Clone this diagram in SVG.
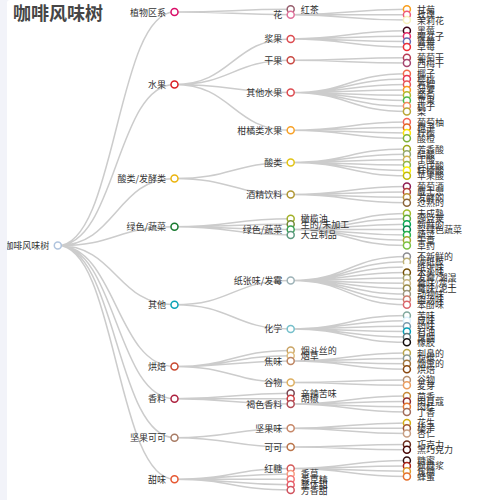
<svg xmlns="http://www.w3.org/2000/svg" width="500" height="500" viewBox="0 0 500 500">
<style>
.l{fill:none;stroke:#ccc;stroke-width:1.5}
circle{fill:#fff;stroke-width:1.5}
text{font-family:"Noto Sans CJK SC","Noto Sans",sans-serif;font-size:9px;fill:#333;dominant-baseline:central}
.a{text-anchor:end}
.b{text-anchor:start}
.t{font-size:18px;font-weight:bold;fill:#464646;dominant-baseline:auto}
</style>
<rect x="0" y="0" width="500" height="500" fill="#fff"/>
<text class="t" x="13" y="20">咖啡风味树</text>
<g id="links">
<path class="l" d="M57.8,245.6C116.2,245.6 116.2,12 174.5,12M57.8,245.6C116.2,245.6 116.2,84.5 174.5,84.5M57.8,245.6C116.2,245.6 116.2,178.5 174.5,178.5M57.8,245.6C116.2,245.6 116.2,226.8 174.5,226.8M57.8,245.6C116.2,245.6 116.2,304.7 174.5,304.7M57.8,245.6C116.2,245.6 116.2,366.5 174.5,366.5M57.8,245.6C116.2,245.6 116.2,398.7 174.5,398.7M57.8,245.6C116.2,245.6 116.2,437.7 174.5,437.7M57.8,245.6C116.2,245.6 116.2,479.3 174.5,479.3"/>
<path class="l" d="M174.5,12C232.6,12 232.6,9.3 290.7,9.3M174.5,12C232.6,12 232.6,14.7 290.7,14.7"/>
<path class="l" d="M174.5,84.5C232.6,84.5 232.6,38.9 290.7,38.9M174.5,84.5C232.6,84.5 232.6,60.3 290.7,60.3M174.5,84.5C232.6,84.5 232.6,92.6 290.7,92.6M174.5,84.5C232.6,84.5 232.6,130.2 290.7,130.2"/>
<path class="l" d="M174.5,178.5C232.6,178.5 232.6,162.4 290.7,162.4M174.5,178.5C232.6,178.5 232.6,194.6 290.7,194.6"/>
<path class="l" d="M174.5,226.8C232.6,226.8 232.6,218.8 290.7,218.8M174.5,226.8C232.6,226.8 232.6,224.2 290.7,224.2M174.5,226.8C232.6,226.8 232.6,229.5 290.7,229.5M174.5,226.8C232.6,226.8 232.6,234.9 290.7,234.9"/>
<path class="l" d="M174.5,304.7C232.6,304.7 232.6,280.6 290.7,280.6M174.5,304.7C232.6,304.7 232.6,328.9 290.7,328.9"/>
<path class="l" d="M174.5,366.5C232.6,366.5 232.6,350.4 290.7,350.4M174.5,366.5C232.6,366.5 232.6,355.7 290.7,355.7M174.5,366.5C232.6,366.5 232.6,361.1 290.7,361.1M174.5,366.5C232.6,366.5 232.6,382.6 290.7,382.6"/>
<path class="l" d="M174.5,398.7C232.6,398.7 232.6,393.3 290.7,393.3M174.5,398.7C232.6,398.7 232.6,398.7 290.7,398.7M174.5,398.7C232.6,398.7 232.6,404.1 290.7,404.1"/>
<path class="l" d="M174.5,437.7C232.6,437.7 232.6,428.3 290.7,428.3M174.5,437.7C232.6,437.7 232.6,447.1 290.7,447.1"/>
<path class="l" d="M174.5,479.3C232.6,479.3 232.6,468.5 290.7,468.5M174.5,479.3C232.6,479.3 232.6,473.9 290.7,473.9M174.5,479.3C232.6,479.3 232.6,479.3 290.7,479.3M174.5,479.3C232.6,479.3 232.6,484.7 290.7,484.7M174.5,479.3C232.6,479.3 232.6,490 290.7,490"/>
<path class="l" d="M290.7,14.7C348.8,14.7 348.8,9.3 406.9,9.3M290.7,14.7C348.8,14.7 348.8,14.7 406.9,14.7M290.7,14.7C348.8,14.7 348.8,20.1 406.9,20.1"/>
<path class="l" d="M290.7,38.9C348.8,38.9 348.8,30.8 406.9,30.8M290.7,38.9C348.8,38.9 348.8,36.2 406.9,36.2M290.7,38.9C348.8,38.9 348.8,41.5 406.9,41.5M290.7,38.9C348.8,38.9 348.8,46.9 406.9,46.9"/>
<path class="l" d="M290.7,60.3C348.8,60.3 348.8,57.7 406.9,57.7M290.7,60.3C348.8,60.3 348.8,63 406.9,63"/>
<path class="l" d="M290.7,92.6C348.8,92.6 348.8,73.8 406.9,73.8M290.7,92.6C348.8,92.6 348.8,79.1 406.9,79.1M290.7,92.6C348.8,92.6 348.8,84.5 406.9,84.5M290.7,92.6C348.8,92.6 348.8,89.9 406.9,89.9M290.7,92.6C348.8,92.6 348.8,95.3 406.9,95.3M290.7,92.6C348.8,92.6 348.8,100.6 406.9,100.6M290.7,92.6C348.8,92.6 348.8,106 406.9,106M290.7,92.6C348.8,92.6 348.8,111.4 406.9,111.4"/>
<path class="l" d="M290.7,130.2C348.8,130.2 348.8,122.1 406.9,122.1M290.7,130.2C348.8,130.2 348.8,127.5 406.9,127.5M290.7,130.2C348.8,130.2 348.8,132.9 406.9,132.9M290.7,130.2C348.8,130.2 348.8,138.2 406.9,138.2"/>
<path class="l" d="M290.7,162.4C348.8,162.4 348.8,149 406.9,149M290.7,162.4C348.8,162.4 348.8,154.3 406.9,154.3M290.7,162.4C348.8,162.4 348.8,159.7 406.9,159.7M290.7,162.4C348.8,162.4 348.8,165.1 406.9,165.1M290.7,162.4C348.8,162.4 348.8,170.4 406.9,170.4M290.7,162.4C348.8,162.4 348.8,175.8 406.9,175.8"/>
<path class="l" d="M290.7,194.6C348.8,194.6 348.8,186.6 406.9,186.6M290.7,194.6C348.8,194.6 348.8,191.9 406.9,191.9M290.7,194.6C348.8,194.6 348.8,197.3 406.9,197.3M290.7,194.6C348.8,194.6 348.8,202.7 406.9,202.7"/>
<path class="l" d="M290.7,229.5C348.8,229.5 348.8,213.4 406.9,213.4M290.7,229.5C348.8,229.5 348.8,218.8 406.9,218.8M290.7,229.5C348.8,229.5 348.8,224.2 406.9,224.2M290.7,229.5C348.8,229.5 348.8,229.5 406.9,229.5M290.7,229.5C348.8,229.5 348.8,234.9 406.9,234.9M290.7,229.5C348.8,229.5 348.8,240.3 406.9,240.3M290.7,229.5C348.8,229.5 348.8,245.6 406.9,245.6"/>
<path class="l" d="M290.7,280.6C348.8,280.6 348.8,256.4 406.9,256.4M290.7,280.6C348.8,280.6 348.8,261.8 406.9,261.8M290.7,280.6C348.8,280.6 348.8,267.1 406.9,267.1M290.7,280.6C348.8,280.6 348.8,272.5 406.9,272.5M290.7,280.6C348.8,280.6 348.8,277.9 406.9,277.9M290.7,280.6C348.8,280.6 348.8,283.2 406.9,283.2M290.7,280.6C348.8,280.6 348.8,288.6 406.9,288.6M290.7,280.6C348.8,280.6 348.8,294 406.9,294M290.7,280.6C348.8,280.6 348.8,299.4 406.9,299.4M290.7,280.6C348.8,280.6 348.8,304.7 406.9,304.7"/>
<path class="l" d="M290.7,328.9C348.8,328.9 348.8,315.5 406.9,315.5M290.7,328.9C348.8,328.9 348.8,320.8 406.9,320.8M290.7,328.9C348.8,328.9 348.8,326.2 406.9,326.2M290.7,328.9C348.8,328.9 348.8,331.6 406.9,331.6M290.7,328.9C348.8,328.9 348.8,337 406.9,337M290.7,328.9C348.8,328.9 348.8,342.3 406.9,342.3"/>
<path class="l" d="M290.7,361.1C348.8,361.1 348.8,353.1 406.9,353.1M290.7,361.1C348.8,361.1 348.8,358.4 406.9,358.4M290.7,361.1C348.8,361.1 348.8,363.8 406.9,363.8M290.7,361.1C348.8,361.1 348.8,369.2 406.9,369.2"/>
<path class="l" d="M290.7,382.6C348.8,382.6 348.8,379.9 406.9,379.9M290.7,382.6C348.8,382.6 348.8,385.3 406.9,385.3"/>
<path class="l" d="M290.7,404.1C348.8,404.1 348.8,396 406.9,396M290.7,404.1C348.8,404.1 348.8,401.4 406.9,401.4M290.7,404.1C348.8,404.1 348.8,406.8 406.9,406.8M290.7,404.1C348.8,404.1 348.8,412.1 406.9,412.1"/>
<path class="l" d="M290.7,428.3C348.8,428.3 348.8,422.9 406.9,422.9M290.7,428.3C348.8,428.3 348.8,428.3 406.9,428.3M290.7,428.3C348.8,428.3 348.8,433.6 406.9,433.6"/>
<path class="l" d="M290.7,447.1C348.8,447.1 348.8,444.4 406.9,444.4M290.7,447.1C348.8,447.1 348.8,449.7 406.9,449.7"/>
<path class="l" d="M290.7,468.5C348.8,468.5 348.8,460.5 406.9,460.5M290.7,468.5C348.8,468.5 348.8,465.9 406.9,465.9M290.7,468.5C348.8,468.5 348.8,471.2 406.9,471.2M290.7,468.5C348.8,468.5 348.8,476.6 406.9,476.6"/>
</g>
<g id="nodes">
<g id="root"><circle cx="57.8" cy="245.6" r="3.5" stroke="#b0c4de"/><text class="a" x="49.3" y="245.6">咖啡风味树</text></g>
<g id="d1-flora"><circle cx="174.5" cy="12" r="3.5" stroke="#da0d68"/><text class="a" x="166" y="12">植物区系</text></g>
<g id="d1-fruity"><circle cx="174.5" cy="84.5" r="3.5" stroke="#da1d23"/><text class="a" x="166" y="84.5">水果</text></g>
<g id="d1-sour"><circle cx="174.5" cy="178.5" r="3.5" stroke="#ebb40f"/><text class="a" x="166" y="178.5">酸类/发酵类</text></g>
<g id="d1-green"><circle cx="174.5" cy="226.8" r="3.5" stroke="#187a2f"/><text class="a" x="166" y="226.8">绿色/蔬菜</text></g>
<g id="d1-other"><circle cx="174.5" cy="304.7" r="3.5" stroke="#0aa3b5"/><text class="a" x="166" y="304.7">其他</text></g>
<g id="d1-roasted"><circle cx="174.5" cy="366.5" r="3.5" stroke="#c94930"/><text class="a" x="166" y="366.5">烘焙</text></g>
<g id="d1-spices"><circle cx="174.5" cy="398.7" r="3.5" stroke="#ad213e"/><text class="a" x="166" y="398.7">香料</text></g>
<g id="d1-nutty"><circle cx="174.5" cy="437.7" r="3.5" stroke="#a87b64"/><text class="a" x="166" y="437.7">坚果可可</text></g>
<g id="d1-sweet"><circle cx="174.5" cy="479.3" r="3.5" stroke="#e65832"/><text class="a" x="166" y="479.3">甜味</text></g>

<g id="d2-blacktea"><circle cx="290.7" cy="9.3" r="3.5" stroke="#975e6d"/><text class="b" x="300.7" y="9.3">红茶</text></g>
<g id="d2-floral"><circle cx="290.7" cy="14.7" r="3.5" stroke="#e0719c"/><text class="a" x="282.2" y="14.7">花</text></g>
<g id="d2-berry"><circle cx="290.7" cy="38.9" r="3.5" stroke="#dd4c51"/><text class="a" x="282.2" y="38.9">浆果</text></g>
<g id="d2-dried"><circle cx="290.7" cy="60.3" r="3.5" stroke="#c94a44"/><text class="a" x="282.2" y="60.3">干果</text></g>
<g id="d2-otherfruit"><circle cx="290.7" cy="92.6" r="3.5" stroke="#dd4c51"/><text class="a" x="282.2" y="92.6">其他水果</text></g>
<g id="d2-citrus"><circle cx="290.7" cy="130.2" r="3.5" stroke="#f7a128"/><text class="a" x="282.2" y="130.2">柑橘类水果</text></g>
<g id="d2-sour"><circle cx="290.7" cy="162.4" r="3.5" stroke="#e1c315"/><text class="a" x="282.2" y="162.4">酸类</text></g>
<g id="d2-alcohol"><circle cx="290.7" cy="194.6" r="3.5" stroke="#b09733"/><text class="a" x="282.2" y="194.6">酒精饮料</text></g>
<g id="d2-olive"><circle cx="290.7" cy="218.8" r="3.5" stroke="#a2b029"/><text class="b" x="300.7" y="218.8">橄榄油</text></g>
<g id="d2-raw"><circle cx="290.7" cy="224.2" r="3.5" stroke="#718933"/><text class="b" x="300.7" y="224.2">生的/未加工</text></g>
<g id="d2-greenveg"><circle cx="290.7" cy="229.5" r="3.5" stroke="#3aa255"/><text class="a" x="282.2" y="229.5">绿色/蔬菜</text></g>
<g id="d2-beany"><circle cx="290.7" cy="234.9" r="3.5" stroke="#5e9a80"/><text class="b" x="300.7" y="234.9">大豆制品</text></g>
<g id="d2-papery"><circle cx="290.7" cy="280.6" r="3.5" stroke="#9db2b7"/><text class="a" x="282.2" y="280.6">纸张味/发霉</text></g>
<g id="d2-chemical"><circle cx="290.7" cy="328.9" r="3.5" stroke="#76c0cb"/><text class="a" x="282.2" y="328.9">化学</text></g>
<g id="d2-pipe"><circle cx="290.7" cy="350.4" r="3.5" stroke="#caa465"/><text class="b" x="300.7" y="350.4">烟斗丝的</text></g>
<g id="d2-tobacco"><circle cx="290.7" cy="355.7" r="3.5" stroke="#dfbd7e"/><text class="b" x="300.7" y="355.7">烟草</text></g>
<g id="d2-burnt"><circle cx="290.7" cy="361.1" r="3.5" stroke="#be8663"/><text class="a" x="282.2" y="361.1">焦味</text></g>
<g id="d2-cereal"><circle cx="290.7" cy="382.6" r="3.5" stroke="#ddaf61"/><text class="a" x="282.2" y="382.6">谷物</text></g>
<g id="d2-pungent"><circle cx="290.7" cy="393.3" r="3.5" stroke="#794752"/><text class="b" x="300.7" y="393.3">辛辣苦味</text></g>
<g id="d2-pepper"><circle cx="290.7" cy="398.7" r="3.5" stroke="#cc3d41"/><text class="b" x="300.7" y="398.7">胡椒</text></g>
<g id="d2-brownspice"><circle cx="290.7" cy="404.1" r="3.5" stroke="#b14d57"/><text class="a" x="282.2" y="404.1">褐色香料</text></g>
<g id="d2-nutty"><circle cx="290.7" cy="428.3" r="3.5" stroke="#c78869"/><text class="a" x="282.2" y="428.3">坚果味</text></g>
<g id="d2-cocoa"><circle cx="290.7" cy="447.1" r="3.5" stroke="#bb764c"/><text class="a" x="282.2" y="447.1">可可</text></g>
<g id="d2-brownsugar"><circle cx="290.7" cy="468.5" r="3.5" stroke="#d45a59"/><text class="a" x="282.2" y="468.5">红糖</text></g>
<g id="d2-vanilla"><circle cx="290.7" cy="473.9" r="3.5" stroke="#f89a80"/><text class="b" x="300.7" y="473.9">香草</text></g>
<g id="d2-vanillin"><circle cx="290.7" cy="479.3" r="3.5" stroke="#f37674"/><text class="b" x="300.7" y="479.3">香草精</text></g>
<g id="d2-overall"><circle cx="290.7" cy="484.7" r="3.5" stroke="#e75b68"/><text class="b" x="300.7" y="484.7">整体甜</text></g>
<g id="d2-sweetaroma"><circle cx="290.7" cy="490" r="3.5" stroke="#d0545f"/><text class="b" x="300.7" y="490">芳香甜</text></g>

<g id="l-01"><circle cx="406.9" cy="9.3" r="3.5" stroke="#f99e1c"/><text class="b" x="416.9" y="9.3">甘菊</text></g>
<g id="l-02"><circle cx="406.9" cy="14.7" r="3.5" stroke="#ef5a78"/><text class="b" x="416.9" y="14.7">玫瑰</text></g>
<g id="l-03"><circle cx="406.9" cy="20.1" r="3.5" stroke="#f7f1bd"/><text class="b" x="416.9" y="20.1">茉莉花</text></g>
<g id="l-04"><circle cx="406.9" cy="30.8" r="3.5" stroke="#3e0317"/><text class="b" x="416.9" y="30.8">黑莓</text></g>
<g id="l-05"><circle cx="406.9" cy="36.2" r="3.5" stroke="#e62969"/><text class="b" x="416.9" y="36.2">覆盆子</text></g>
<g id="l-06"><circle cx="406.9" cy="41.5" r="3.5" stroke="#6569b0"/><text class="b" x="416.9" y="41.5">蓝莓</text></g>
<g id="l-07"><circle cx="406.9" cy="46.9" r="3.5" stroke="#ef2d36"/><text class="b" x="416.9" y="46.9">草莓</text></g>
<g id="l-08"><circle cx="406.9" cy="57.7" r="3.5" stroke="#b53b54"/><text class="b" x="416.9" y="57.7">葡萄干</text></g>
<g id="l-09"><circle cx="406.9" cy="63" r="3.5" stroke="#a5446f"/><text class="b" x="416.9" y="63">西梅干</text></g>
<g id="l-10"><circle cx="406.9" cy="73.8" r="3.5" stroke="#f2684b"/><text class="b" x="416.9" y="73.8">椰子</text></g>
<g id="l-11"><circle cx="406.9" cy="79.1" r="3.5" stroke="#e73451"/><text class="b" x="416.9" y="79.1">樱桃</text></g>
<g id="l-12"><circle cx="406.9" cy="84.5" r="3.5" stroke="#e65656"/><text class="b" x="416.9" y="84.5">石榴</text></g>
<g id="l-13"><circle cx="406.9" cy="89.9" r="3.5" stroke="#f89a1c"/><text class="b" x="416.9" y="89.9">菠萝</text></g>
<g id="l-14"><circle cx="406.9" cy="95.3" r="3.5" stroke="#aeb92c"/><text class="b" x="416.9" y="95.3">葡萄</text></g>
<g id="l-15"><circle cx="406.9" cy="100.6" r="3.5" stroke="#4eb849"/><text class="b" x="416.9" y="100.6">苹果</text></g>
<g id="l-16"><circle cx="406.9" cy="106" r="3.5" stroke="#f68a5c"/><text class="b" x="416.9" y="106">桃子</text></g>
<g id="l-17"><circle cx="406.9" cy="111.4" r="3.5" stroke="#baa635"/><text class="b" x="416.9" y="111.4">梨</text></g>
<g id="l-18"><circle cx="406.9" cy="122.1" r="3.5" stroke="#f26355"/><text class="b" x="416.9" y="122.1">葡萄柚</text></g>
<g id="l-19"><circle cx="406.9" cy="127.5" r="3.5" stroke="#e2631e"/><text class="b" x="416.9" y="127.5">橙子</text></g>
<g id="l-20"><circle cx="406.9" cy="132.9" r="3.5" stroke="#fde404"/><text class="b" x="416.9" y="132.9">柠檬</text></g>
<g id="l-21"><circle cx="406.9" cy="138.2" r="3.5" stroke="#7eb138"/><text class="b" x="416.9" y="138.2">酸橙</text></g>
<g id="l-22"><circle cx="406.9" cy="149" r="3.5" stroke="#9ea718"/><text class="b" x="416.9" y="149">芳香酸</text></g>
<g id="l-23"><circle cx="406.9" cy="154.3" r="3.5" stroke="#94a76f"/><text class="b" x="416.9" y="154.3">醋酸</text></g>
<g id="l-24"><circle cx="406.9" cy="159.7" r="3.5" stroke="#d0b24f"/><text class="b" x="416.9" y="159.7">丁酸</text></g>
<g id="l-25"><circle cx="406.9" cy="165.1" r="3.5" stroke="#8eb646"/><text class="b" x="416.9" y="165.1">异戊酸</text></g>
<g id="l-26"><circle cx="406.9" cy="170.4" r="3.5" stroke="#faef07"/><text class="b" x="416.9" y="170.4">柠檬酸</text></g>
<g id="l-27"><circle cx="406.9" cy="175.8" r="3.5" stroke="#c1ba07"/><text class="b" x="416.9" y="175.8">苹果酸</text></g>
<g id="l-28"><circle cx="406.9" cy="186.6" r="3.5" stroke="#8f1c53"/><text class="b" x="416.9" y="186.6">葡萄酒</text></g>
<g id="l-29"><circle cx="406.9" cy="191.9" r="3.5" stroke="#b34039"/><text class="b" x="416.9" y="191.9">威士忌</text></g>
<g id="l-30"><circle cx="406.9" cy="197.3" r="3.5" stroke="#ba9232"/><text class="b" x="416.9" y="197.3">发酵的</text></g>
<g id="l-31"><circle cx="406.9" cy="202.7" r="3.5" stroke="#8b6439"/><text class="b" x="416.9" y="202.7">过熟的</text></g>
<g id="l-32"><circle cx="406.9" cy="213.4" r="3.5" stroke="#a2bb2b"/><text class="b" x="416.9" y="213.4">未成熟</text></g>
<g id="l-33"><circle cx="406.9" cy="218.8" r="3.5" stroke="#62aa3c"/><text class="b" x="416.9" y="218.8">豌豆荚</text></g>
<g id="l-34"><circle cx="406.9" cy="224.2" r="3.5" stroke="#03a653"/><text class="b" x="416.9" y="224.2">新鲜的</text></g>
<g id="l-35"><circle cx="406.9" cy="229.5" r="3.5" stroke="#038549"/><text class="b" x="416.9" y="229.5">深绿色蔬菜</text></g>
<g id="l-36"><circle cx="406.9" cy="234.9" r="3.5" stroke="#28b44b"/><text class="b" x="416.9" y="234.9">蔬菜</text></g>
<g id="l-37"><circle cx="406.9" cy="240.3" r="3.5" stroke="#a3a830"/><text class="b" x="416.9" y="240.3">干草</text></g>
<g id="l-38"><circle cx="406.9" cy="245.6" r="3.5" stroke="#7ac141"/><text class="b" x="416.9" y="245.6">草药</text></g>
<g id="l-39"><circle cx="406.9" cy="256.4" r="3.5" stroke="#8b8c90"/><text class="b" x="416.9" y="256.4">不新鲜的</text></g>
<g id="l-40"><circle cx="406.9" cy="261.8" r="3.5" stroke="#beb276"/><text class="b" x="416.9" y="261.8">硬纸板</text></g>
<g id="l-41"><circle cx="406.9" cy="267.1" r="3.5" stroke="#fefef4"/><text class="b" x="416.9" y="267.1">纸张味</text></g>
<g id="l-42"><circle cx="406.9" cy="272.5" r="3.5" stroke="#744e03"/><text class="b" x="416.9" y="272.5">木头味</text></g>
<g id="l-43"><circle cx="406.9" cy="277.9" r="3.5" stroke="#a3a36f"/><text class="b" x="416.9" y="277.9">发霉/潮湿</text></g>
<g id="l-44"><circle cx="406.9" cy="283.2" r="3.5" stroke="#c9b583"/><text class="b" x="416.9" y="283.2">霉味/灰尘</text></g>
<g id="l-45"><circle cx="406.9" cy="288.6" r="3.5" stroke="#978847"/><text class="b" x="416.9" y="288.6">霉味/泥土</text></g>
<g id="l-46"><circle cx="406.9" cy="294" r="3.5" stroke="#9d977f"/><text class="b" x="416.9" y="294">动物味</text></g>
<g id="l-47"><circle cx="406.9" cy="299.4" r="3.5" stroke="#cc7b6a"/><text class="b" x="416.9" y="299.4">肉汤味</text></g>
<g id="l-48"><circle cx="406.9" cy="304.7" r="3.5" stroke="#db646a"/><text class="b" x="416.9" y="304.7">苯酚味</text></g>
<g id="l-49"><circle cx="406.9" cy="315.5" r="3.5" stroke="#80a89d"/><text class="b" x="416.9" y="315.5">苦味</text></g>
<g id="l-50"><circle cx="406.9" cy="320.8" r="3.5" stroke="#def2fd"/><text class="b" x="416.9" y="320.8">咸味</text></g>
<g id="l-51"><circle cx="406.9" cy="326.2" r="3.5" stroke="#7a9bae"/><text class="b" x="416.9" y="326.2">药味</text></g>
<g id="l-52"><circle cx="406.9" cy="331.6" r="3.5" stroke="#039fb8"/><text class="b" x="416.9" y="331.6">石油</text></g>
<g id="l-53"><circle cx="406.9" cy="337" r="3.5" stroke="#5e777b"/><text class="b" x="416.9" y="337">臭鼬</text></g>
<g id="l-54"><circle cx="406.9" cy="342.3" r="3.5" stroke="#120c0c"/><text class="b" x="416.9" y="342.3">橡胶</text></g>
<g id="l-55"><circle cx="406.9" cy="353.1" r="3.5" stroke="#b9a449"/><text class="b" x="416.9" y="353.1">刺鼻的</text></g>
<g id="l-56"><circle cx="406.9" cy="358.4" r="3.5" stroke="#899893"/><text class="b" x="416.9" y="358.4">灰烬</text></g>
<g id="l-57"><circle cx="406.9" cy="363.8" r="3.5" stroke="#a1743b"/><text class="b" x="416.9" y="363.8">烟熏的</text></g>
<g id="l-58"><circle cx="406.9" cy="369.2" r="3.5" stroke="#894810"/><text class="b" x="416.9" y="369.2">烘焙</text></g>
<g id="l-59"><circle cx="406.9" cy="379.9" r="3.5" stroke="#b7906f"/><text class="b" x="416.9" y="379.9">谷物</text></g>
<g id="l-60"><circle cx="406.9" cy="385.3" r="3.5" stroke="#eb9d5f"/><text class="b" x="416.9" y="385.3">麦芽</text></g>
<g id="l-61"><circle cx="406.9" cy="396" r="3.5" stroke="#c78936"/><text class="b" x="416.9" y="396">茴香</text></g>
<g id="l-62"><circle cx="406.9" cy="401.4" r="3.5" stroke="#8c292c"/><text class="b" x="416.9" y="401.4">肉豆蔻</text></g>
<g id="l-63"><circle cx="406.9" cy="406.8" r="3.5" stroke="#e5762e"/><text class="b" x="416.9" y="406.8">肉桂</text></g>
<g id="l-64"><circle cx="406.9" cy="412.1" r="3.5" stroke="#a16c5a"/><text class="b" x="416.9" y="412.1">丁香</text></g>
<g id="l-65"><circle cx="406.9" cy="422.9" r="3.5" stroke="#d4ad12"/><text class="b" x="416.9" y="422.9">花生</text></g>
<g id="l-66"><circle cx="406.9" cy="428.3" r="3.5" stroke="#9d5433"/><text class="b" x="416.9" y="428.3">榛子</text></g>
<g id="l-67"><circle cx="406.9" cy="433.6" r="3.5" stroke="#c89f83"/><text class="b" x="416.9" y="433.6">杏仁</text></g>
<g id="l-68"><circle cx="406.9" cy="444.4" r="3.5" stroke="#692a19"/><text class="b" x="416.9" y="444.4">巧克力</text></g>
<g id="l-69"><circle cx="406.9" cy="449.7" r="3.5" stroke="#470604"/><text class="b" x="416.9" y="449.7">黑巧克力</text></g>
<g id="l-70"><circle cx="406.9" cy="460.5" r="3.5" stroke="#310d0f"/><text class="b" x="416.9" y="460.5">糖蜜</text></g>
<g id="l-71"><circle cx="406.9" cy="465.9" r="3.5" stroke="#ae2317"/><text class="b" x="416.9" y="465.9">枫糖浆</text></g>
<g id="l-72"><circle cx="406.9" cy="471.2" r="3.5" stroke="#dd9a2a"/><text class="b" x="416.9" y="471.2">焦糖</text></g>
<g id="l-73"><circle cx="406.9" cy="476.6" r="3.5" stroke="#e5702c"/><text class="b" x="416.9" y="476.6">蜂蜜</text></g>
</g>
<rect x="0" y="0" width="7" height="500" fill="#f2f3f9"/>
<path d="M7,0h3a3,3 0 0 0 -3,3z" fill="#f2f3f9"/>
</svg>
